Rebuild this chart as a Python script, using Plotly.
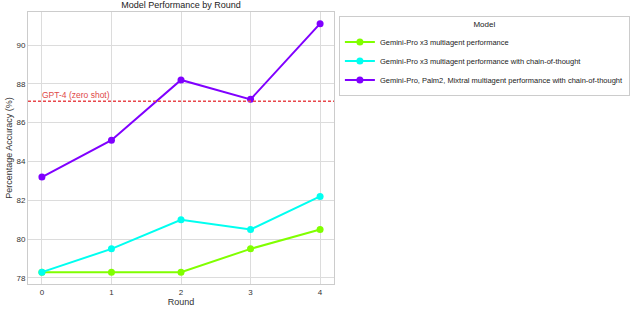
import plotly.graph_objects as go

rounds = [0, 1, 2, 3, 4]
gemini_x3 = [78.3, 78.3, 78.3, 79.5, 80.5]
gemini_x3_cot = [78.3, 79.5, 81.0, 80.5, 82.2]
mixed_cot = [83.2, 85.1, 88.2, 87.2, 91.1]
gpt4_zero_shot = 87.1
series_names = [
    "Gemini-Pro x3 multiagent performance",
    "Gemini-Pro x3 multiagent performance with chain-of-thought",
    "Gemini-Pro, Palm2, Mixtral multiagent performance with chain-of-thought",
]
colors = ["#80ff00", "#00fff0", "#8000ff"]

fig = go.Figure()
for name, vals, c in zip(series_names, [gemini_x3, gemini_x3_cot, mixed_cot], colors):
    fig.add_trace(go.Scatter(x=rounds, y=vals, mode="lines+markers", name=name,
                             line=dict(color=c, width=2), marker=dict(color=c, size=7)))

fig.add_hline(y=gpt4_zero_shot, line=dict(color="#e8474b", width=1.5, dash="3px,2px"))
fig.add_annotation(x=rounds[0], y=gpt4_zero_shot, text="GPT-4 (zero shot)", showarrow=False,
                   xanchor="left", yanchor="bottom", font=dict(color="#e04848", size=8.5), xshift=-2, yshift=-1)

axis_common = dict(showgrid=True, gridcolor="#dcdcdc", gridwidth=1, showline=True, linecolor="#cccccc",
                   mirror=True, zeroline=False, ticks="", tickfont=dict(size=8, color="#333"),
                   automargin=False)
fig.update_layout(
    width=640, height=309,
    margin=dict(l=28, r=306, t=12, b=25, autoexpand=False),
    paper_bgcolor="white", plot_bgcolor="white",
    font=dict(family="Liberation Sans, Arial", size=9, color="#333"),
    title=dict(text="Model Performance by Round", x=181/640, xanchor="center", y=0.995, yanchor="top",
               font=dict(size=9, color="#222")),
    xaxis=dict(range=[-0.2, 4.2], tickvals=rounds, title=dict(text="Round", standoff=2, font=dict(size=9)), **axis_common),
    yaxis=dict(range=[77.69, 91.7], tickvals=[78, 80, 82, 84, 86, 88, 90],
               title=dict(text="Percentage Accuracy (%)", standoff=2, font=dict(size=9)), **axis_common),
    legend=dict(x=1.016, y=0.985, xanchor="left", yanchor="top", bordercolor="#cccccc", borderwidth=1,
                title=dict(text="Model", side="top center", font=dict(size=8, color="#222")),
                font=dict(size=7.5, color="#222"), itemwidth=30, tracegroupgap=0),
    showlegend=True,
)
fig.write_html("out.html", config={"displayModeBar": False},
               post_script="document.body.style.margin='0';")
